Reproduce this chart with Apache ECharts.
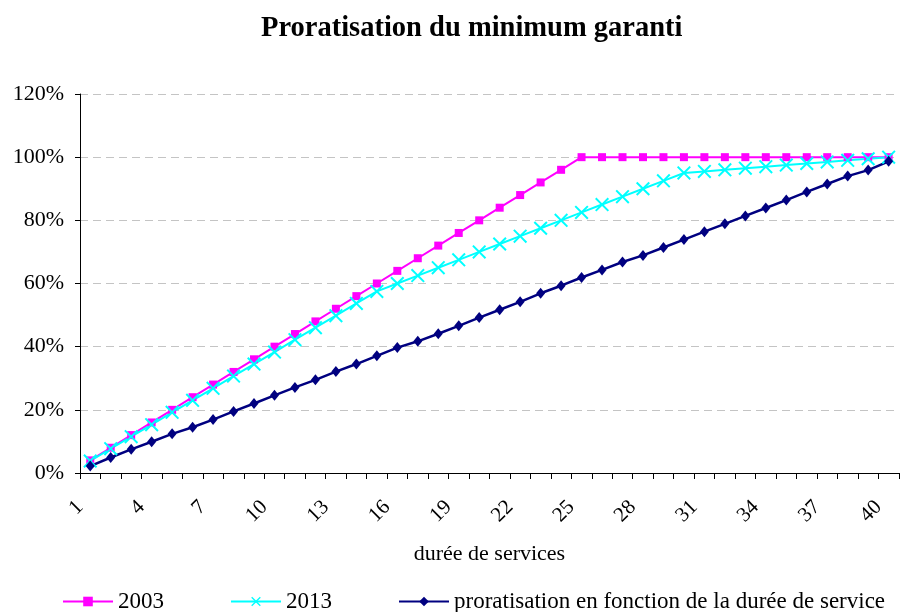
<!DOCTYPE html>
<html>
<head>
<meta charset="utf-8">
<script src="https://cdn.jsdelivr.net/npm/echarts@6/dist/echarts.min.js"></script>
<style>
html,body{margin:0;padding:0;background:#fff;}
#chart{width:901px;height:612px;}
</style>
</head>
<body>
<div id="chart"></div>
<script>
var categories = ['1','2','3','4','5','6','7','8','9','10','11','12','13','14','15','16','17','18','19','20',
  '21','22','23','24','25','26','27','28','29','30','31','32','33','34','35','36','37','38','39','40'];
var tickLabels = ['1','4','7','10','13','16','19','22','25','28','31','34','37','40'];
var yTicks = [0,20,40,60,80,100,120];

var series2003 = [4,8,12,16,20,24,28,32,36,40,44,48,52,56,60,64,68,72,76,80,84,88,92,96,100,
  100,100,100,100,100,100,100,100,100,100,100,100,100,100,100];
var series2013 = [3.8,7.7,11.5,15.3,19.2,23.0,26.8,30.7,34.5,38.3,42.2,46.0,49.8,53.7,57.5,
  60.0,62.5,65.0,67.5,70.0,72.5,75.0,77.5,80.0,82.5,85.0,87.5,90.0,92.5,95.0,
  95.5,96.0,96.5,97.0,97.5,98.0,98.5,99.0,99.5,100];
var seriesProrata = [2.2,4.9,7.5,9.9,12.4,14.5,16.9,19.5,22.0,24.6,27.1,29.5,32.1,34.5,37.1,39.7,41.7,44.1,46.6,49.2,
  51.7,54.2,56.9,59.3,61.9,64.3,66.8,68.9,71.4,73.9,76.4,78.9,81.4,83.9,86.4,89.0,91.5,94.0,95.9,98.7];

var seriesNames = ['2003','2013','proratisation en fonction de la durée de service'];
var FONT = "'Liberation Serif','Times New Roman',serif";

var boundaryLabels = categories.concat(['']);

var chart = echarts.init(document.getElementById('chart'), null, {renderer:'canvas'});
chart.setOption({
  backgroundColor:'#ffffff',
  animation:false,
  title:{
    text:'Proratisation du minimum garanti',
    left:261, top:14, padding:0,
    textStyle:{fontFamily:FONT, fontSize:28.5, fontWeight:'bold', color:'#000'}
  },
  legend:{
    data:seriesNames,
    left:62, top:590, padding:0,
    itemWidth:50, itemHeight:12, itemGap:66,
    textStyle:{fontFamily:FONT, fontSize:23, color:'#000'}
  },
  grid:{left:80, right:-2, top:94, bottom:139, containLabel:false},
  xAxis:[{
    type:'category', data:categories, boundaryGap:true, show:false
  },{
    type:'category', data:boundaryLabels, boundaryGap:false, position:'bottom',
    name:'durée de services', nameLocation:'middle', nameGap:70,
    nameTextStyle:{fontFamily:FONT, fontSize:22, color:'#000'},
    axisLine:{show:true, lineStyle:{color:'#000', width:1}},
    axisTick:{show:true, inside:false, length:6, interval:0, lineStyle:{color:'#000'}},
    axisLabel:{interval:0, rotate:45, margin:31, fontFamily:FONT, fontSize:21, color:'#000',
      formatter:function(v){ return tickLabels.indexOf(v) >= 0 ? v : ''; }},
    splitLine:{show:false}
  }],
  yAxis:{
    type:'value', min:yTicks[0], max:yTicks[yTicks.length-1], interval:20,
    axisLine:{show:true, lineStyle:{color:'#000', width:1}},
    axisTick:{show:true, length:5, lineStyle:{color:'#000'}},
    axisLabel:{formatter:'{value}%', margin:16, fontFamily:FONT, fontSize:22, color:'#000'},
    splitLine:{show:true, lineStyle:{color:'#c4c4c4', type:[8,5], width:1}}
  },
  series:[{
    name:seriesNames[0], type:'line', xAxisIndex:0, data:series2003,
    symbol:'rect', symbolSize:8, showAllSymbol:true,
    lineStyle:{color:'#FF00FF', width:2}, itemStyle:{color:'#FF00FF'}
  },{
    name:seriesNames[1], type:'line', xAxisIndex:0, data:series2013,
    symbol:'path://M0,1 L1,0 L5,4 L9,0 L10,1 L6,5 L10,9 L9,10 L5,6 L1,10 L0,9 L4,5 Z',
    symbolSize:14, showAllSymbol:true,
    lineStyle:{color:'#00FFFF', width:2}, itemStyle:{color:'#00FFFF'}
  },{
    name:seriesNames[2], type:'line', xAxisIndex:0, data:seriesProrata,
    symbol:'diamond', symbolSize:[9,11], showAllSymbol:true,
    lineStyle:{color:'#000080', width:2.5}, itemStyle:{color:'#000080'}
  }]
});
</script>
</body>
</html>
